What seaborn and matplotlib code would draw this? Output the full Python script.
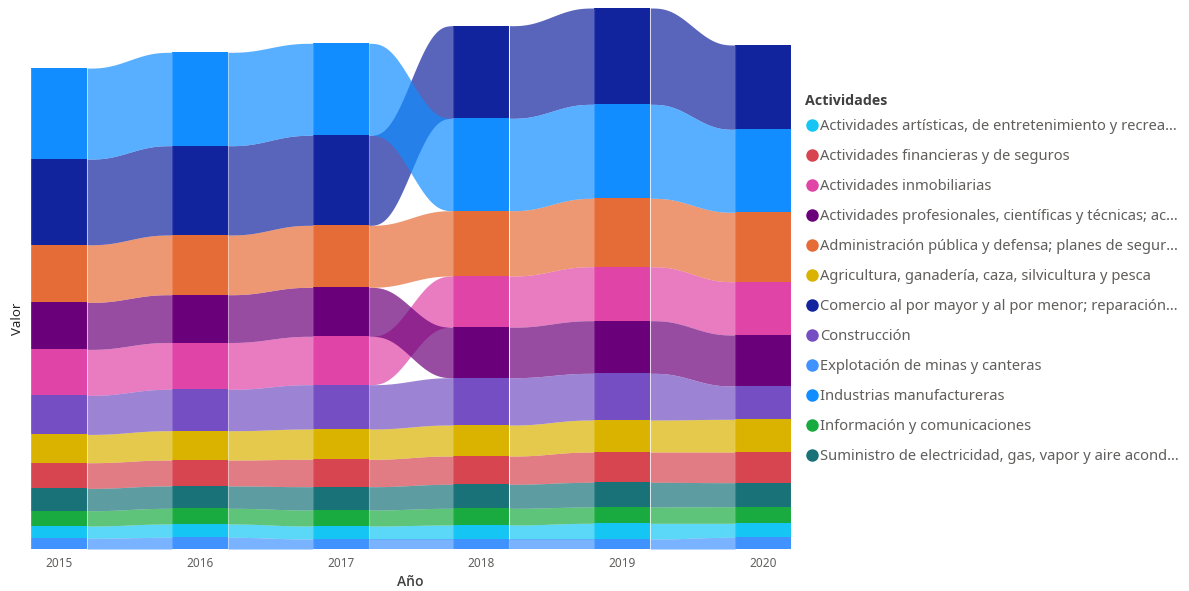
import numpy as np
import matplotlib
matplotlib.use("Agg")
import matplotlib.pyplot as plt
from matplotlib.lines import Line2D
import seaborn as sns

years = ["2015", "2016", "2017", "2018", "2019", "2020"]

actividades = [
    "Actividades artísticas, de entretenimiento y recrea...",
    "Actividades financieras y de seguros",
    "Actividades inmobiliarias",
    "Actividades profesionales, científicas y técnicas; ac...",
    "Administración pública y defensa; planes de segur...",
    "Agricultura, ganadería, caza, silvicultura y pesca",
    "Comercio al por mayor y al por menor; reparación...",
    "Construcción",
    "Explotación de minas y canteras",
    "Industrias manufactureras",
    "Información y comunicaciones",
    "Suministro de electricidad, gas, vapor y aire acond...",
]

artisticas = [12.3, 13.3, 13.0, 14.0, 15.7, 14.0]
financieras = [25.7, 26.0, 27.4, 28.3, 30.3, 30.7]
inmobiliarias = [46.0, 46.8, 48.4, 51.2, 54.0, 53.3]
profesionales = [47.0, 47.8, 49.0, 50.5, 52.6, 51.0]
administracion = [57.6, 59.7, 62.0, 65.3, 68.4, 69.4]
agricultura = [28.3, 29.3, 30.3, 31.0, 32.0, 32.7]
comercio = [85.7, 89.3, 90.0, 92.6, 96.3, 84.3]
construccion = [39.0, 41.4, 44.3, 47.3, 46.7, 33.3]
explotacion = [10.7, 11.7, 10.0, 10.0, 10.0, 11.7]
industrias = [91.0, 93.4, 92.0, 92.4, 94.0, 83.0]
informacion = [15.3, 15.7, 16.0, 16.7, 16.3, 16.6]
suministro = [22.3, 22.3, 23.3, 24.0, 24.7, 24.0]

series = [artisticas, financieras, inmobiliarias, profesionales, administracion,
          agricultura, comercio, construccion, explotacion, industrias,
          informacion, suministro]

palette = sns.color_palette([
    "#15C6F4", "#D64550", "#E044A7", "#6B007B", "#E66C37", "#D9B300",
    "#12239E", "#744EC2", "#4092FF", "#118DFF", "#1AAB40", "#197278",
])

sns.set_theme(style="white")
plt.rcParams["font.family"] = ["Noto Sans", "DejaVu Sans"]

values = np.array(series, dtype=float)          # (n_series, n_years)
n_series, n_years = values.shape

# Ribbon stacking: in every year the largest series sits on top
bottoms = np.zeros_like(values)
for j in range(n_years):
    order = np.argsort(values[:, j], kind="stable")
    acc = 0.0
    for k in order:
        bottoms[k, j] = acc
        acc += values[k, j]
tops = bottoms + values

fig = plt.figure(figsize=(11.89, 5.91), dpi=100)
ax = fig.add_axes([31 / 1189, 42 / 591, 761 / 1189, 549 / 591])

xpos = np.arange(n_years)
bar_w = 0.398


def ease(t):
    return t * t * t * (t * (6 * t - 15) + 10)


t = np.linspace(0, 1, 80)
s = ease(t)

# ribbons between consecutive years
for k in range(n_series):
    col = palette[k]
    for j in range(n_years - 1):
        x0 = xpos[j] + bar_w / 2
        x1 = xpos[j + 1] - bar_w / 2
        xs = x0 + (x1 - x0) * t
        lo = bottoms[k, j] + (bottoms[k, j + 1] - bottoms[k, j]) * s
        hi = tops[k, j] + (tops[k, j + 1] - tops[k, j]) * s
        ax.fill_between(xs, lo, hi, color=col, alpha=0.7, linewidth=0, zorder=1)

# stacked columns for every year
for k in range(n_series):
    ax.bar(xpos, values[k], bottom=bottoms[k], width=bar_w, color=palette[k],
           linewidth=0, zorder=2)

# faint separators at column edges
totals = values.sum(axis=0)
for j in range(n_years):
    for dx in (-bar_w / 2, bar_w / 2):
        ax.vlines(xpos[j] + dx, 0, totals[j], color="white", alpha=0.15,
                  linewidth=0.9, zorder=3)

ax.set_xlim(-0.199, 5.206)
ax.set_ylim(0, 549)
ax.set_xticks(xpos)
ax.set_xticklabels(years, fontsize=8.5, color="#605E5C")
ax.tick_params(axis="x", length=0, pad=6)
ax.set_yticks([])
for sp in ax.spines.values():
    sp.set_visible(False)

ax.set_xlabel("Año", fontsize=10, color="#404040", fontweight="semibold",
              family="Open Sans", va="center")
ax.xaxis.set_label_coords(0.499, -0.06)
ax.set_ylabel("Valor", fontsize=9.5, color="#252423", va="center")
ax.yaxis.set_label_coords(-0.018, 0.42)

handles = [Line2D([0], [0], marker="o", linestyle="", markersize=9,
                  markerfacecolor=palette[k], markeredgewidth=0)
           for k in range(n_series)]
leg = fig.legend(handles, actividades, title="Actividades", loc="upper left",
                 bbox_to_anchor=(799 / 1189, 1 - 88 / 591), frameon=False,
                 fontsize=10.6, labelspacing=1.02,
                 title_fontproperties={"size": 10.3, "weight": "bold",
                                       "family": "Open Sans"},
                 handletextpad=0.05, handlelength=1.0, borderaxespad=0,
                 labelcolor="#605E5C")
leg.get_title().set_color("#404040")
leg._legend_box.align = "left"
leg._legend_box.sep = 7.9

fig.savefig("out.png", dpi=100)
